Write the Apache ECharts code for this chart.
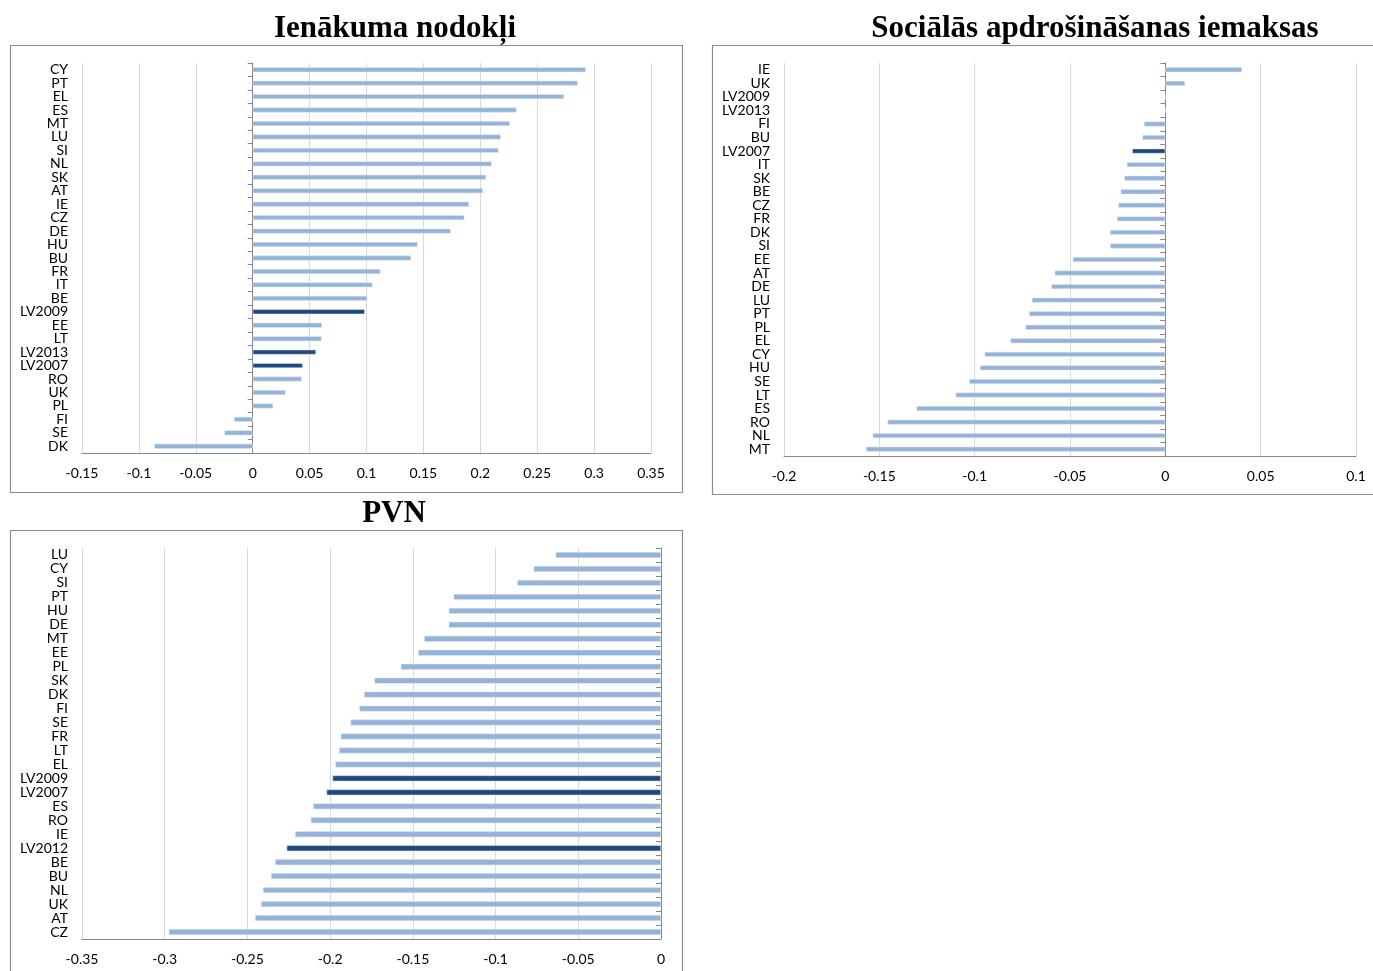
<!DOCTYPE html>
<html>
<head>
<meta charset="utf-8">
<title>Nodokļu izmaiņas</title>
<script src="https://cdn.jsdelivr.net/npm/echarts@6/dist/echarts.min.js"></script>
<style>
  html, body { margin: 0; padding: 0; background: #fff; }
  #chart { width: 1373px; height: 971px; }
</style>
</head>
<body>
<div id="chart"></div>
<script>
// Ienākuma nodokļi
const incomeCats = ['CY','PT','EL','ES','MT','LU','SI','NL','SK','AT','IE','CZ','DE','HU','BU','FR','IT','BE','LV2009','EE','LT','LV2013','LV2007','RO','UK','PL','FI','SE','DK'];
const incomeVals = [0.2926,0.2856,0.2735,0.2319,0.226,0.218,0.216,0.210,0.205,0.2023,0.190,0.186,0.174,0.145,0.139,0.1123,0.1053,0.1006,0.0985,0.061,0.0605,0.0557,0.044,0.043,0.0288,0.018,-0.0164,-0.025,-0.0865];

// Sociālās apdrošināšanas iemaksas
const socialCats = ['IE','UK','LV2009','LV2013','FI','BU','LV2007','IT','SK','BE','CZ','FR','DK','SI','EE','AT','DE','LU','PT','PL','EL','CY','HU','SE','LT','ES','RO','NL','MT'];
const socialVals = [0.0402,0.0103,0,0,-0.0112,-0.012,-0.0174,-0.0202,-0.0215,-0.0234,-0.0246,-0.0253,-0.029,-0.029,-0.0485,-0.058,-0.0598,-0.070,-0.0714,-0.0733,-0.0812,-0.0948,-0.0972,-0.1028,-0.110,-0.1305,-0.1457,-0.1535,-0.157];

// PVN
const vatCats = ['LU','CY','SI','PT','HU','DE','MT','EE','PL','SK','DK','FI','SE','FR','LT','EL','LV2009','LV2007','ES','RO','IE','LV2012','BE','BU','NL','UK','AT','CZ'];
const vatVals = [-0.0637,-0.077,-0.0869,-0.1254,-0.1283,-0.1283,-0.1432,-0.1468,-0.1573,-0.1732,-0.1795,-0.1823,-0.1877,-0.1936,-0.1946,-0.1968,-0.1986,-0.2022,-0.2103,-0.2117,-0.2212,-0.2263,-0.2333,-0.2357,-0.2406,-0.2418,-0.2454,-0.2975];

// x axis ranges: [min, max]
const incomeRange = [-0.15, 0.35];
const socialRange = [-0.2, 0.1];
const vatRange = [-0.35, 0];
const tickStep = 0.05;

const LIGHT = '#95B3D7';
const DARK = '#1F497D';
const GRID_LINE = '#D9D9D9';
const AXIS_LINE = '#868686';
const LABEL_FONT = 'Lato, "Open Sans", sans-serif';
const TITLE_FONT = '"Liberation Serif", "DejaVu Serif", serif';

const panels = [
  { title: 'Ienākuma nodokļi', cats: incomeCats, vals: incomeVals, range: incomeRange,
    grid: { left: 82, top: 63, width: 569, height: 390 }, barWidth: 5,
    titlePos: { x: 395, y: 29 }, box: { x: 10.5, y: 45.5, width: 672, height: 447 } },
  { title: 'Sociālās apdrošināšanas iemaksas', cats: socialCats, vals: socialVals, range: socialRange,
    grid: { left: 784, top: 63, width: 572, height: 393 }, barWidth: 5,
    titlePos: { x: 1095, y: 29 }, box: { x: 712.5, y: 45.5, width: 680, height: 449 } },
  { title: 'PVN', cats: vatCats, vals: vatVals, range: vatRange,
    grid: { left: 82, top: 548, width: 579, height: 391 }, barWidth: 6,
    titlePos: { x: 394, y: 514 }, box: { x: 10.5, y: 530.5, width: 672, height: 460 } }
];

const fmt = v => String(Number(v.toFixed(2)));

const option = {
  animation: false,
  backgroundColor: '#fff',
  grid: [], xAxis: [], yAxis: [], series: [], graphic: []
};

panels.forEach((p, i) => {
  option.grid.push(Object.assign({ containLabel: false }, p.grid));
  option.xAxis.push({
    type: 'value', gridIndex: i,
    min: p.range[0], max: p.range[1], interval: tickStep,
    axisLine: { show: true, onZero: false, lineStyle: { color: AXIS_LINE, width: 1 } },
    axisTick: { show: false },
    splitLine: { show: true, lineStyle: { color: GRID_LINE, width: 1 } },
    axisLabel: { formatter: fmt, margin: 13, fontSize: 14, color: '#000', fontFamily: LABEL_FONT }
  });
  // category labels on the left edge
  option.yAxis.push({
    type: 'category', gridIndex: i, data: p.cats, inverse: true, position: 'left',
    axisLine: { show: false, onZero: false }, axisTick: { show: false },
    axisLabel: { interval: 0, margin: 14, fontSize: 14, color: '#000', fontFamily: LABEL_FONT, lineHeight: 13 }
  });
  // zero line with category ticks
  option.yAxis.push({
    type: 'category', gridIndex: i, data: p.cats, inverse: true, position: 'left',
    axisLine: { show: true, onZero: true, lineStyle: { color: AXIS_LINE, width: 1 } },
    axisTick: { show: true, interval: 0, length: 5, lineStyle: { color: AXIS_LINE } },
    axisLabel: { show: false }
  });
  option.series.push({
    type: 'bar', xAxisIndex: i, yAxisIndex: i * 2,
    data: p.vals, barWidth: p.barWidth, z: 3,
    itemStyle: {
      color: params => params.name.startsWith('LV') ? DARK : LIGHT,
      borderColor: 'rgba(220,230,242,0.9)', borderWidth: 0.6
    }
  });
  option.graphic.push({
    type: 'rect', shape: p.box, silent: true, z: 0,
    style: { fill: 'none', stroke: '#8C8C8C', lineWidth: 1.2 }
  });
  option.graphic.push({
    type: 'text', x: p.titlePos.x, y: p.titlePos.y, silent: true,
    style: {
      text: p.title, fill: '#000', font: 'bold 31px ' + TITLE_FONT,
      textAlign: 'center', textVerticalAlign: 'middle'
    }
  });
});

const chart = echarts.init(document.getElementById('chart'), null, { renderer: 'canvas' });
chart.setOption(option);
</script>
</body>
</html>
